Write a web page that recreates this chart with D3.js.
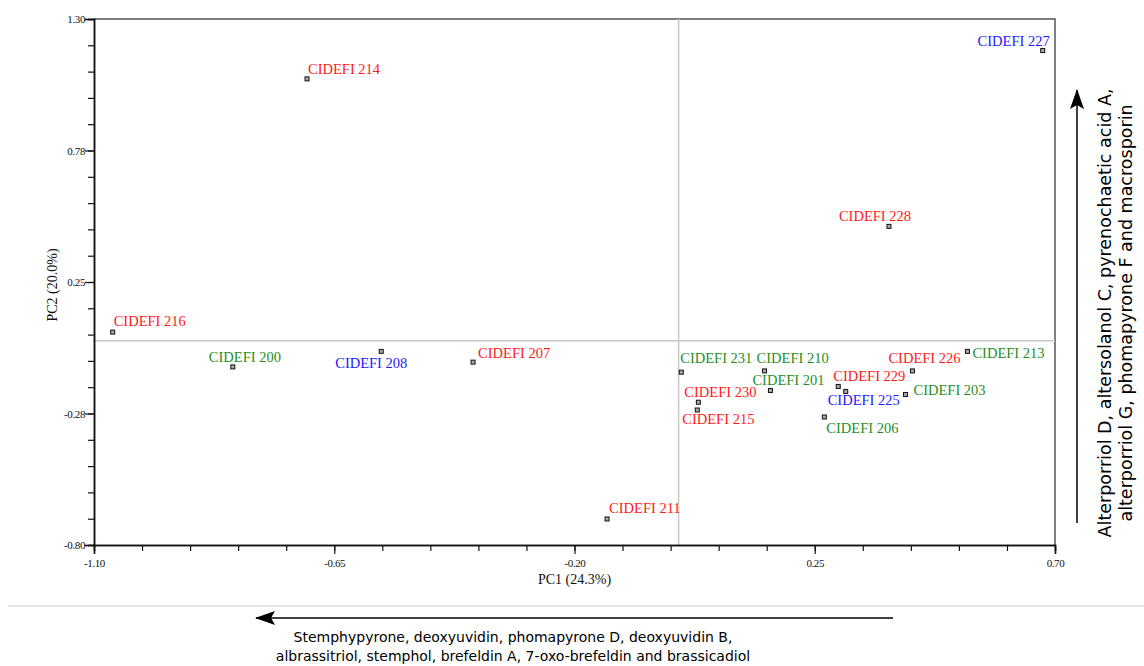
<!DOCTYPE html>
<html>
<head>
<meta charset="utf-8">
<script src="https://cdn.jsdelivr.net/npm/d3@7/dist/d3.min.js"></script>
<style>
  body { margin: 0; background: #fff; }
</style>
</head>
<body>
<div id="chart"></div>
<script>
// isolate scores on the first two principal components
const isolates = ["CIDEFI 200","CIDEFI 201","CIDEFI 203","CIDEFI 206","CIDEFI 207","CIDEFI 208",
                  "CIDEFI 210","CIDEFI 211","CIDEFI 213","CIDEFI 214","CIDEFI 215","CIDEFI 216",
                  "CIDEFI 225","CIDEFI 226","CIDEFI 227","CIDEFI 228","CIDEFI 229","CIDEFI 230","CIDEFI 231"];
const pc1 = [-0.840, 0.167, 0.420, 0.268, -0.390, -0.562,
              0.156, -0.139, 0.536, -0.701, 0.030, -1.065,
              0.308, 0.433, 0.677, 0.389, 0.294, 0.032, 0.000];
const pc2 = [-0.089, -0.183, -0.199, -0.289, -0.070, -0.027,
             -0.105, -0.696, -0.027, 1.061, -0.261, 0.050,
             -0.187, -0.105, 1.174, 0.472, -0.167, -0.230, -0.110];
const group = ["G","G","G","G","R","B",
               "G","R","G","R","R","R",
               "B","R","B","R","R","R","G"];

// axis ticks
const xMajor = [-1.10, -0.65, -0.20, 0.25, 0.70];
const xMajorLabels = ["-1.10", "-0.65", "-0.20", "0.25", "0.70"];
const yMajor = [1.30, 0.775, 0.25, -0.275, -0.80];
const yMajorLabels = ["1.30", "0.78", "0.25", "-0.28", "-0.80"];

const xTitle = "PC1 (24.3%)";
const yTitle = "PC2 (20.0%)";
const rightNote = ["Alterporriol D, altersolanol C, pyrenochaetic acid A,",
                   "alterporriol G, phomapyrone F and macrosporin"];
const bottomNote = ["Stemphypyrone, deoxyuvidin, phomapyrone D, deoxyuvidin B,",
                    "albrassitriol, stemphol, brefeldin A, 7-oxo-brefeldin and brassicadiol"];

// where the origin lines sit
const refX = -0.005, refY = 0.015;

let svgWidth = 1144, svgHeight = 666;
let plotLeft = 94, plotRight = 1055, plotTop = 19, plotBottom = 545;

let svg = d3.select("#chart").append("svg")
  .attr("width", svgWidth).attr("height", svgHeight);

let x = d3.scaleLinear().domain([-1.10, 0.70]).range([plotLeft, plotRight]);
let y = d3.scaleLinear().domain([-0.80, 1.30]).range([plotBottom, plotTop]);

let groupColor = d3.scaleOrdinal().domain(["R","G","B"]).range(["#ff1a1a", "#1f8f1f", "#1a1aff"]);

// frame (top / right)
svg.append("path")
  .attr("d", `M${plotLeft},${plotTop}H${plotRight}V${plotBottom}`)
  .attr("fill", "none").attr("stroke", "#555").attr("stroke-width", 1.5);

// origin lines
svg.append("line")
  .attr("x1", plotLeft).attr("x2", plotRight).attr("y1", y(refY)).attr("y2", y(refY))
  .attr("stroke", "#c8c8c8").attr("stroke-width", 1.5);
svg.append("line")
  .attr("x1", x(refX)).attr("x2", x(refX)).attr("y1", plotTop).attr("y2", plotBottom)
  .attr("stroke", "#c8c8c8").attr("stroke-width", 1.5);

// minor ticks first, then major ticks with labels
let xMinor = d3.range(21).map(i => -1.10 + i * 0.09);
let yMinor = d3.range(21).map(i => -0.80 + i * 0.105);

function styleAxis(g) {
  g.select(".domain").attr("stroke", "#111").attr("stroke-width", 1.5);
  g.selectAll(".tick line").attr("stroke", "#111").attr("stroke-width", 1.2);
  g.selectAll(".tick text")
    .attr("font-family", "'Liberation Serif', serif")
    .attr("font-size", 11)
    .attr("letter-spacing", "-0.4px")
    .attr("fill", "#111");
}

svg.append("g")
  .attr("transform", `translate(0,${plotBottom})`)
  .call(d3.axisBottom(x).tickValues(xMinor).tickSize(6).tickFormat(""))
  .call(styleAxis);
svg.append("g")
  .attr("transform", `translate(0,${plotBottom})`)
  .call(d3.axisBottom(x).tickValues(xMajor).tickSize(9).tickPadding(5)
        .tickFormat((d, i) => xMajorLabels[i]))
  .call(styleAxis);

svg.append("g")
  .attr("transform", `translate(${plotLeft},0)`)
  .call(d3.axisLeft(y).tickValues(yMinor).tickSize(6).tickFormat(""))
  .call(styleAxis);
svg.append("g")
  .attr("transform", `translate(${plotLeft},0)`)
  .call(d3.axisLeft(y).tickValues(yMajor).tickSize(9).tickPadding(0)
        .tickFormat((d, i) => yMajorLabels[i]))
  .call(styleAxis);

// axis titles
svg.append("text")
  .attr("x", (plotLeft + plotRight) / 2).attr("y", 584)
  .attr("text-anchor", "middle")
  .attr("font-family", "'Liberation Serif', serif").attr("font-size", 14)
  .attr("fill", "#111")
  .text(xTitle);
svg.append("text")
  .attr("transform", `translate(57,${(plotTop + plotBottom) / 2 + 3})rotate(-90)`)
  .attr("text-anchor", "middle")
  .attr("font-family", "'Liberation Serif', serif").attr("font-size", 14)
  .attr("fill", "#111")
  .text(yTitle);

// label placement next to each point: [dx, dy, anchor]
let labelPos = {
  "CIDEFI 200": [-24, -5, "start"], "CIDEFI 201": [-18, -5, "start"],
  "CIDEFI 203": [8, 1, "start"],    "CIDEFI 206": [2, 16, "start"],
  "CIDEFI 207": [5, -4, "start"],   "CIDEFI 208": [-46, 17, "start"],
  "CIDEFI 210": [-8, -8, "start"],  "CIDEFI 211": [2, -6, "start"],
  "CIDEFI 213": [5, 7, "start"],    "CIDEFI 214": [1, -5, "start"],
  "CIDEFI 215": [-15, 14, "start"], "CIDEFI 216": [1, -6, "start"],
  "CIDEFI 225": [-18, 14, "start"], "CIDEFI 226": [-24, -8, "start"],
  "CIDEFI 227": [7, -5, "end"],     "CIDEFI 228": [-50, -5, "start"],
  "CIDEFI 229": [-5, -5, "start"],  "CIDEFI 230": [-14, -5, "start"],
  "CIDEFI 231": [-1, -9, "start"]
};

let rows = isolates.map((name, i) => ({ name: name, pc1: pc1[i], pc2: pc2[i], group: group[i] }));

let pts = svg.append("g").selectAll("g").data(rows).enter().append("g");

pts.append("text")
  .attr("x", d => x(d.pc1) + labelPos[d.name][0])
  .attr("y", d => y(d.pc2) + labelPos[d.name][1])
  .attr("text-anchor", d => labelPos[d.name][2])
  .attr("font-family", "'Liberation Serif', serif")
  .attr("font-size", 14.5)
  .attr("fill", d => groupColor(d.group))
  .text(d => d.name);

pts.append("rect")
  .attr("x", d => x(d.pc1) - 2)
  .attr("y", d => y(d.pc2) - 2)
  .attr("width", 4).attr("height", 4)
  .attr("fill", "#aaa")
  .attr("stroke", "#111")
  .attr("stroke-width", 1);

// arrow markers
let defs = svg.append("defs");
defs.append("marker")
  .attr("id", "head")
  .attr("viewBox", "0 0 20 14")
  .attr("refX", 19).attr("refY", 7)
  .attr("markerWidth", 20).attr("markerHeight", 14)
  .attr("markerUnits", "userSpaceOnUse")
  .attr("orient", "auto")
  .append("path").attr("d", "M0,0L20,7L0,14L4,7Z").attr("fill", "#000");

// right annotation
svg.append("line")
  .attr("x1", 1077).attr("x2", 1077).attr("y1", 523).attr("y2", 90)
  .attr("stroke", "#000").attr("stroke-width", 1.5)
  .attr("marker-end", "url(#head)");

rightNote.forEach((t, i) => {
  svg.append("text")
    .attr("transform", `translate(${1111 + i * 21},313)rotate(-90)`)
    .attr("text-anchor", "middle")
    .attr("font-family", "'DejaVu Sans', sans-serif")
    .attr("font-size", 17.5)
    .attr("fill", "#000")
    .text(t);
});

// separator under the plot
svg.append("line")
  .attr("x1", 8).attr("x2", 1144).attr("y1", 606).attr("y2", 606)
  .attr("stroke", "#c8c8c8").attr("stroke-width", 1.2);

// bottom annotation
svg.append("line")
  .attr("x1", 893).attr("x2", 256).attr("y1", 618).attr("y2", 618)
  .attr("stroke", "#000").attr("stroke-width", 1.5)
  .attr("marker-end", "url(#head)");

bottomNote.forEach((t, i) => {
  svg.append("text")
    .attr("x", 513).attr("y", 642 + i * 19)
    .attr("text-anchor", "middle")
    .attr("font-family", "'DejaVu Sans', sans-serif")
    .attr("font-size", 14)
    .attr("fill", "#000")
    .text(t);
});
</script>
</body>
</html>
